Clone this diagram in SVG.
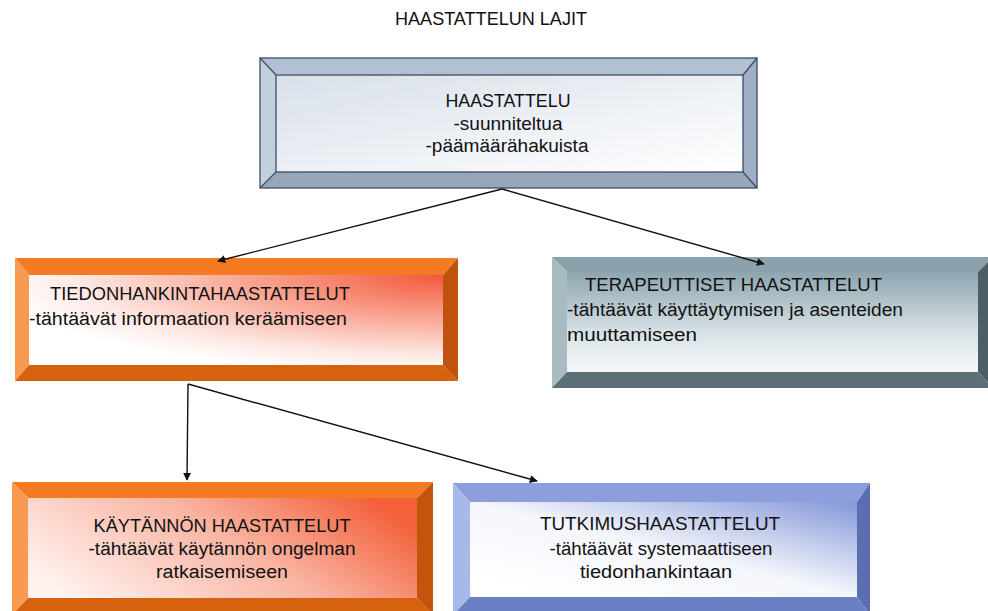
<svg xmlns="http://www.w3.org/2000/svg" width="988" height="611" viewBox="0 0 988 611">
  <defs>
    <style>
      text { font-family: "Liberation Sans", Arial, sans-serif; font-size: 18px; fill: #111; }
      .c { text-anchor: middle; }
      .edge { stroke: #111; stroke-width: 1.4; fill: none; marker-end: url(#arrow); }
      .outline { fill: none; stroke: #3d4e66; stroke-width: 1.3; }
    </style>
    <marker id="arrow" viewBox="0 0 10 10" refX="9" refY="5" markerWidth="8" markerHeight="8" markerUnits="userSpaceOnUse" orient="auto">
      <path d="M0,0 L10,5 L0,10 z" fill="#111"/>
    </marker>
    <linearGradient id="faceGrey" x1="0" y1="0" x2="1" y2="1">
      <stop offset="0" stop-color="#d9e0ea"/>
      <stop offset="1" stop-color="#ffffff"/>
    </linearGradient>
    <radialGradient id="faceOrangeA" cx="1" cy="0" r="1.1">
      <stop offset="0" stop-color="#f3583a"/>
      <stop offset="0.45" stop-color="#f9a896"/>
      <stop offset="0.8" stop-color="#fde8e3"/>
      <stop offset="1" stop-color="#ffffff"/>
    </radialGradient>
    <linearGradient id="faceOrangeB" x1="0" y1="0.7" x2="1" y2="0.3">
      <stop offset="0" stop-color="#fff1ed"/>
      <stop offset="0.55" stop-color="#f9b4a2"/>
      <stop offset="1" stop-color="#f3603a"/>
    </linearGradient>
    <linearGradient id="faceSlate" x1="0" y1="0" x2="0" y2="1">
      <stop offset="0" stop-color="#8ea5af"/>
      <stop offset="0.6" stop-color="#d7e1e5"/>
      <stop offset="1" stop-color="#f6f9fa"/>
    </linearGradient>
    <linearGradient id="faceBlue" x1="1" y1="0" x2="0.1" y2="0.9">
      <stop offset="0" stop-color="#8497d8"/>
      <stop offset="0.55" stop-color="#f4f6fc"/>
      <stop offset="1" stop-color="#ffffff"/>
    </linearGradient>
  </defs>

  <rect width="988" height="611" fill="#ffffff"/>

  <text class="c" x="491" y="25" font-size="17" textLength="192" lengthAdjust="spacingAndGlyphs">HAASTATTELUN LAJIT</text>

  <!-- HAASTATTELU -->
  <g id="node-haastattelu">
    <polygon points="260,58 757,58 743,75 276,75" fill="#b2c0d3"/>
    <polygon points="260,58 276,75 276,172 260,188" fill="#c3cfdd"/>
    <polygon points="757,58 757,188 743,172 743,75" fill="#a0afc3"/>
    <polygon points="260,188 276,172 743,172 757,188" fill="#97a7bb"/>
    <rect x="276" y="75" width="467" height="97" fill="url(#faceGrey)"/>
    <rect class="outline" x="260" y="58" width="497" height="130"/>
    <rect class="outline" x="276" y="75" width="467" height="97"/>
    <path class="outline" d="M260,58 L276,75 M757,58 L743,75 M260,188 L276,172 M757,188 L743,172" stroke-width="0.8"/>
    <text class="c" x="508" y="107" textLength="125" lengthAdjust="spacingAndGlyphs">HAASTATTELU</text>
    <text class="c" x="508" y="130" textLength="109" lengthAdjust="spacingAndGlyphs">-suunniteltua</text>
    <text class="c" x="507" y="152" textLength="163" lengthAdjust="spacingAndGlyphs">-päämäärähakuista</text>
  </g>

  <!-- TIEDONHANKINTAHAASTATTELUT -->
  <g id="node-tiedonhankinta">
    <polygon points="15,258 458,258 443,275 29,275" fill="#f57b22"/>
    <polygon points="15,258 29,275 29,365 15,381" fill="#f89a52"/>
    <polygon points="458,258 458,381 443,365 443,275" fill="#bf520c"/>
    <polygon points="15,381 29,365 443,365 458,381" fill="#d6610f"/>
    <rect x="29" y="275" width="414" height="90" fill="url(#faceOrangeA)"/>
    <text x="50" y="300" textLength="300" lengthAdjust="spacingAndGlyphs">TIEDONHANKINTAHAASTATTELUT</text>
    <text x="29" y="325" textLength="318" lengthAdjust="spacingAndGlyphs">-tähtäävät informaation keräämiseen</text>
  </g>

  <!-- TERAPEUTTISET HAASTATTELUT -->
  <g id="node-terapeuttiset">
    <polygon points="552,257 993,257 978,272 567,272" fill="#8ba1ab"/>
    <polygon points="552,257 567,272 567,372 552,388" fill="#a8bbc3"/>
    <polygon points="993,257 993,388 978,372 978,272" fill="#4c5f67"/>
    <polygon points="552,388 567,372 978,372 993,388" fill="#5c6f77"/>
    <rect x="567" y="272" width="411" height="100" fill="url(#faceSlate)"/>
    <text x="585" y="291" textLength="297" lengthAdjust="spacingAndGlyphs">TERAPEUTTISET HAASTATTELUT</text>
    <text x="567" y="316" textLength="336" lengthAdjust="spacingAndGlyphs">-tähtäävät käyttäytymisen ja asenteiden</text>
    <text x="567" y="341" textLength="130" lengthAdjust="spacingAndGlyphs">muuttamiseen</text>
  </g>

  <!-- KÄYTÄNNÖN HAASTATTELUT -->
  <g id="node-kaytannon">
    <polygon points="12,482 433,482 417,498 28,498" fill="#f57b22"/>
    <polygon points="12,482 28,498 28,598 12,615" fill="#f89a52"/>
    <polygon points="433,482 433,615 417,598 417,498" fill="#c2540c"/>
    <polygon points="12,615 28,598 417,598 433,615" fill="#d6610f"/>
    <rect x="28" y="498" width="389" height="100" fill="url(#faceOrangeB)"/>
    <text class="c" x="222" y="532" textLength="257" lengthAdjust="spacingAndGlyphs">KÄYTÄNNÖN HAASTATTELUT</text>
    <text class="c" x="222" y="555" textLength="267" lengthAdjust="spacingAndGlyphs">-tähtäävät käytännön ongelman</text>
    <text class="c" x="222" y="578" textLength="132" lengthAdjust="spacingAndGlyphs">ratkaisemiseen</text>
  </g>

  <!-- TUTKIMUSHAASTATTELUT -->
  <g id="node-tutkimus">
    <polygon points="453,483 870,483 857,502 470,502" fill="#8c9fdc"/>
    <polygon points="453,483 470,502 470,597 453,615" fill="#a8b8ea"/>
    <polygon points="870,483 870,615 857,597 857,502" fill="#5b6eb1"/>
    <polygon points="453,615 470,597 857,597 870,615" fill="#6b80c4"/>
    <rect x="470" y="502" width="387" height="95" fill="url(#faceBlue)"/>
    <text class="c" x="660" y="530" textLength="240" lengthAdjust="spacingAndGlyphs">TUTKIMUSHAASTATTELUT</text>
    <text class="c" x="661" y="555" textLength="223" lengthAdjust="spacingAndGlyphs">-tähtäävät systemaattiseen</text>
    <text class="c" x="656" y="578" textLength="152" lengthAdjust="spacingAndGlyphs">tiedonhankintaan</text>
  </g>

  <!-- connectors -->
  <g id="connectors">
    <line class="edge" x1="502" y1="189" x2="218" y2="261"/>
    <line class="edge" x1="502" y1="189" x2="764" y2="264"/>
    <line class="edge" x1="188" y1="384" x2="187" y2="480"/>
    <line class="edge" x1="188" y1="384" x2="537" y2="481"/>
  </g>
</svg>
